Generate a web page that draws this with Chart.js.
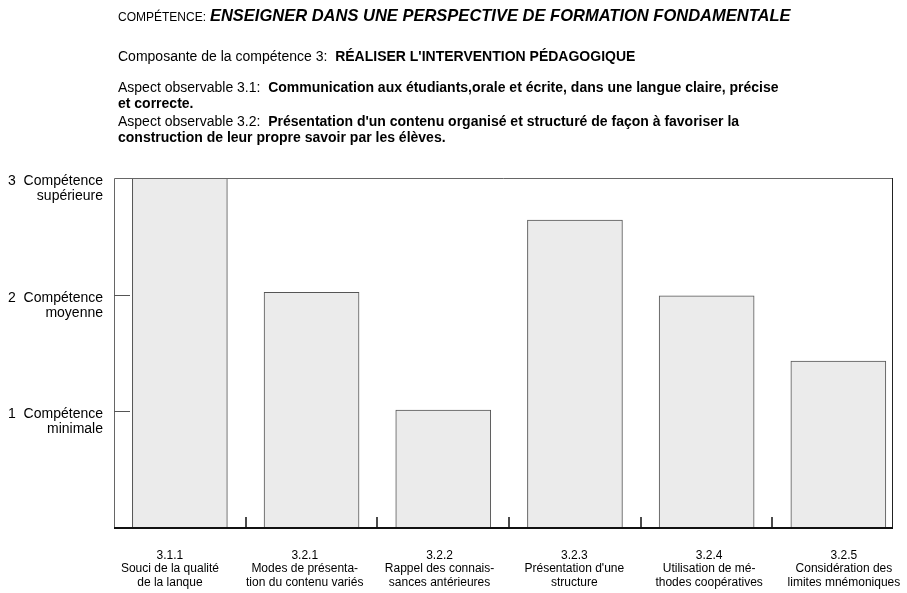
<!DOCTYPE html>
<html>
<head>
<meta charset="utf-8">
<script src="https://cdn.jsdelivr.net/npm/chart.js@4.4.0/dist/chart.umd.min.js"></script>
<style>
    body { margin: 0; background: #fff; }
    #wrap { position: relative; width: 907px; height: 593px; font-family: "Liberation Sans", Arial, sans-serif; color: #000; }
    #chart { position: absolute; left: 0; top: 0; }
    .hd { position: absolute; left: 118px; white-space: nowrap; font-size: 14px; line-height: 16px; }
    .small { font-size: 12px; }
    .big { font-size: 16.5px; font-weight: bold; font-style: italic; }
</style>
</head>
<body>
<div id="wrap">
    <canvas id="chart" width="907" height="593"></canvas>
    <div class="hd" style="top:7px"><span class="small">COMPÉTENCE:</span> <span class="big">ENSEIGNER DANS UNE PERSPECTIVE DE FORMATION FONDAMENTALE</span></div>
    <div class="hd" style="top:48px">Composante de la compétence 3:&nbsp; <b>RÉALISER L'INTERVENTION PÉDAGOGIQUE</b></div>
    <div class="hd" style="top:79px">Aspect observable 3.1:&nbsp; <b>Communication aux étudiants,orale et écrite, dans une langue claire, précise</b></div>
    <div class="hd" style="top:95px"><b>et correcte.</b></div>
    <div class="hd" style="top:113px">Aspect observable 3.2:&nbsp; <b>Présentation d'un contenu organisé et structuré de façon à favoriser la</b></div>
    <div class="hd" style="top:129px"><b>construction de leur propre savoir par les élèves.</b></div>
</div>
<script>
document.addEventListener("DOMContentLoaded", function () {
    /* ======================
       DATA
    ====================== */
    const categories = ["3.1.1", "3.2.1", "3.2.2", "3.2.3", "3.2.4", "3.2.5"];
    const descriptions = [
        ["Souci de la qualité", "de la lanque"],
        ["Modes de présenta-", "tion du contenu variés"],
        ["Rappel des connais-", "sances antérieures"],
        ["Présentation d'une", "structure"],
        ["Utilisation de mé-", "thodes coopératives"],
        ["Considération des", "limites mnémoniques"]
    ];
    const scores = [3.0, 2.02, 1.01, 2.64, 1.99, 1.43];
    const levelTicks = [1, 2, 3];
    const levelLabels = [
        ["", "1  Compétence", "minimale"],
        ["", "2  Compétence", "moyenne"],
        ["", "3  Compétence", "supérieure"]
    ];

    const font = "'Liberation Sans', Arial, sans-serif";

    /* ======================
       FRAME + INNER TICKS
    ====================== */
    const framePlugin = {
        id: "frame",
        afterDraw(chart) {
            const { ctx, chartArea: a, scales } = chart;
            ctx.save();
            ctx.lineWidth = 1;

            ctx.strokeStyle = "#666";
            ctx.beginPath();
            ctx.moveTo(a.left + 0.5, a.bottom);
            ctx.lineTo(a.left + 0.5, a.top + 0.5);
            ctx.lineTo(a.right, a.top + 0.5);
            ctx.stroke();

            ctx.strokeStyle = "#222";
            ctx.beginPath();
            ctx.moveTo(a.right - 0.5, a.top);
            ctx.lineTo(a.right - 0.5, a.bottom);
            ctx.stroke();

            ctx.lineWidth = 2;
            ctx.strokeStyle = "#111";
            ctx.beginPath();
            ctx.moveTo(a.left, a.bottom);
            ctx.lineTo(a.right, a.bottom);
            ctx.stroke();

            // level marks on the left edge
            ctx.lineWidth = 1;
            ctx.strokeStyle = "#555";
            ctx.beginPath();
            levelTicks.slice(0, 2).forEach(function (v) {
                const y = Math.round(scales.y.getPixelForValue(v)) + 0.5;
                ctx.moveTo(a.left, y);
                ctx.lineTo(a.left + 16, y);
            });
            ctx.stroke();

            // marks between bars
            ctx.lineWidth = 1.5;
            ctx.strokeStyle = "#111";
            ctx.beginPath();
            for (let i = 0; i < categories.length - 1; i++) {
                const x = Math.round(scales.x.getPixelForValue(i + 0.5));
                ctx.moveTo(x, a.bottom);
                ctx.lineTo(x, a.bottom - 11);
            }
            ctx.stroke();
            ctx.restore();
        }
    };

    /* ======================
       CHART
    ====================== */
    new Chart(document.getElementById("chart"), {
        type: "bar",
        data: {
            datasets: [
                {
                    data: scores.map((v, i) => ({ x: i, y: v })),
                    xAxisID: "x",
                    yAxisID: "y",
                    backgroundColor: "#ebebeb",
                    borderColor: "#555",
                    borderWidth: 1,
                    barThickness: 95
                }
            ]
        },
        options: {
            responsive: false,
            animation: false,
            layout: { padding: { top: 178, right: 14, bottom: 0, left: 0 } },
            plugins: { legend: { display: false }, tooltip: { enabled: false } },
            scales: {
                x: { type: "linear", min: -0.5, max: 5.415, offset: false, display: false },
                labels: {
                    type: "linear",
                    axis: "x",
                    position: "bottom",
                    min: -0.415,
                    max: 5.364,
                    offset: false,
                    afterBuildTicks: s => { s.ticks = categories.map((c, i) => ({ value: i })); },
                    afterFit: s => {
                        s.height = 65;
                        s.paddingLeft = 0;
                        s.paddingRight = 0;
                    },
                    grid: { display: false, drawTicks: false },
                    border: { display: false },
                    ticks: {
                        autoSkip: false,
                        maxRotation: 0,
                        padding: 21,
                        color: "#000",
                        font: { family: font, size: 12, lineHeight: 1.12 },
                        callback: v => [categories[v]].concat(descriptions[v])
                    }
                },
                y: {
                    min: 0,
                    max: 3,
                    afterBuildTicks: s => { s.ticks = levelTicks.map(v => ({ value: v })); },
                    afterFit: s => { s.width = 114; },
                    grid: { display: false, drawTicks: false },
                    border: { display: false },
                    ticks: {
                        padding: 11,
                        labelOffset: 3,
                        color: "#000",
                        font: { family: font, size: 14, lineHeight: 1.07 },
                        callback: v => levelLabels[levelTicks.indexOf(v)]
                    }
                }
            }
        },
        plugins: [framePlugin]
    });
});
</script>
</body>
</html>
